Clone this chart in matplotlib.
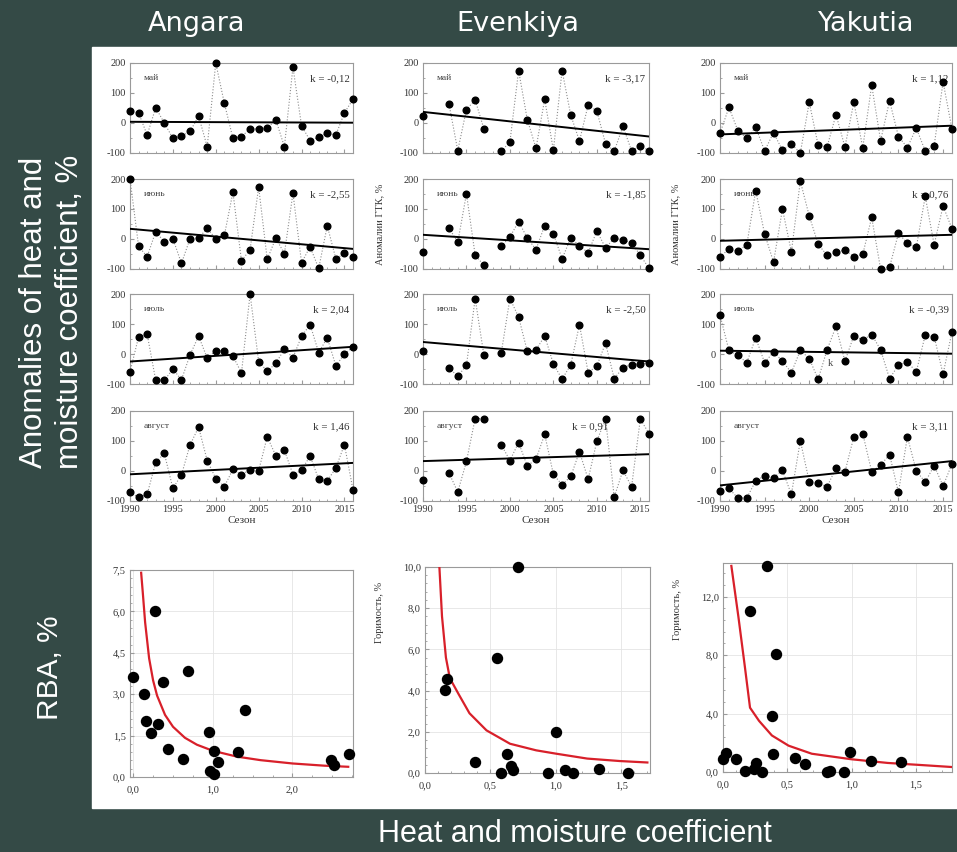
import matplotlib
matplotlib.use("Agg")
import matplotlib.pyplot as plt
from matplotlib.patches import Rectangle
from matplotlib.ticker import FixedLocator, MultipleLocator

W, H = 957, 852
BG = "#344a46"
SERIF = ["Liberation Serif", "DejaVu Serif"]

nan = float("nan")
years = list(range(1990, 2017))
regions = ["Angara", "Evenkiya", "Yakutia"]
months = ["май", "июнь", "июль", "август"]

# ---- аномалии ГТК, % (по годам 1990-2016) ----
angara_may = [40, 34, -40, 51, 0, -51, -43, -28, 23, -79, 200, 66, -51, -45, -20, -20, -18, 11, -79, 186, -9, -59, -47, -34, -40, 34, 79]
angara_jun = [200, -24, -59, 25, -10, 1, -81, 1, 3, 36, 0, 12, 156, -73, -35, 173, -68, 3, -49, 153, -79, -26, -98, 44, -66, -48, -59]
angara_jul = [-60, 57, 66, -88, -88, -50, -86, -3, 60, -14, 11, 11, -7, -63, 200, -25, -58, -31, 16, -12, 59, 98, 5, 54, -39, -1, 24]
angara_aug = [-71, -88, -78, 29, 59, -58, -13, 87, 146, 35, -25, -52, 6, -13, 5, 1, 114, 51, 70, -12, 2, 51, -28, -33, 10, 88, -63]

evenk_may = [23, nan, nan, 62, -92, 45, 77, -19, nan, -94, -63, 175, 11, -84, 79, -91, 175, 26, -60, 60, 40, -69, -94, -11, -93, -76, -92]
evenk_jun = [-43, nan, nan, 36, -11, 151, -54, -87, nan, -24, 7, 58, 3, -35, 45, 18, -66, 3, -22, -46, 27, -30, 3, -3, -13, -54, -98]
evenk_jul = [9, nan, nan, -47, -74, -38, 185, -3, nan, 3, 185, 123, 9, 14, 60, -33, -84, -36, 98, -62, -40, 36, -82, -46, -35, -33, -30]
evenk_aug = [-29, nan, nan, -7, -70, 32, 175, 175, nan, 88, 35, 95, 16, 40, 122, -11, -46, -18, 64, -27, 99, 175, -87, 2, -52, 173, 125]

yakut_may = [-34, 52, -25, -51, -14, -93, -32, -91, -70, -100, 69, -74, -80, 28, -80, 69, -82, 126, -59, 74, -45, -82, -17, -93, -76, 137, -20]
yakut_jun = [-59, -34, -40, -20, 161, 17, -77, 100, -43, 193, 77, -17, -55, -45, -36, -59, -51, 72, -100, -94, 19, -14, -28, 142, -19, 110, 34]
yakut_jul = [130, 12, -4, -29, 54, -29, 7, -24, -62, 12, -15, -84, 14, 92, -24, 61, 47, 65, 14, -82, -37, -27, -59, 63, 58, -67, 74]
yakut_aug = [-67, -58, -90, -90, -33, -16, -22, 2, -78, 101, -35, -41, -52, 9, -3, 114, 124, -2, 19, 55, -71, 114, 0, -37, 18, -50, 24]

series = [
    [angara_may, angara_jun, angara_jul, angara_aug],
    [evenk_may, evenk_jun, evenk_jul, evenk_aug],
    [yakut_may, yakut_jun, yakut_jul, yakut_aug],
]

# линии тренда: значение в 1990 и в 2016
trends = [
    [(4, 1), (34, -33), (-25, 24), (-11, 27)],
    [(37, -45), (14, -34), (40, -25), (33, 56)],
    [(-38, -9), (-6, 14), (11, 1), (-48, 33)],
]
k_labels = [
    ["k = -0,12", "k = -2,55", "k = 2,04", "k = 1,46"],
    ["k = -3,17", "k = -1,85", "k = -2,50", "k = 0,91"],
    ["k = 1,12", "k = 0,76", "k = -0,39", "k = 3,11"],
]

# ---- горимость vs ГТК ----
angara_x = [0.0, 0.14, 0.27, 0.16, 0.22, 0.31, 0.38, 0.44, 0.63, 0.69, 0.95, 0.97, 1.02, 1.01, 1.07, 1.32, 1.41, 2.49, 2.52, 2.71]
angara_y = [3.63, 3.02, 6.02, 2.03, 1.61, 1.93, 3.43, 1.0, 0.64, 3.83, 1.62, 0.22, 0.12, 0.93, 0.53, 0.92, 2.42, 0.63, 0.42, 0.82]
angara_cx = [0.10, 0.12, 0.15, 0.20, 0.25, 0.30, 0.40, 0.50, 0.65, 0.80, 1.0, 1.3, 1.6, 2.0, 2.4, 2.7]
angara_cy = [7.4, 6.7, 5.6, 4.3, 3.5, 2.95, 2.25, 1.82, 1.42, 1.17, 0.95, 0.74, 0.61, 0.49, 0.41, 0.37]

evenk_x = [0.15, 0.17, 0.38, 0.55, 0.58, 0.63, 0.66, 0.67, 0.71, 0.94, 1.0, 1.07, 1.13, 1.33, 1.55]
evenk_y = [4.01, 4.55, 0.53, 5.58, 0.0, 0.91, 0.32, 0.13, 10.0, 0.0, 1.99, 0.13, 0.02, 0.21, 0.0]
evenk_cx = [0.11, 0.13, 0.16, 0.19, 0.255, 0.34, 0.47, 0.65, 0.85, 1.0, 1.24, 1.49, 1.70]
evenk_cy = [10.0, 7.6, 5.6, 4.6, 3.85, 2.9, 2.07, 1.42, 1.1, 0.94, 0.70, 0.58, 0.51]

yakut_x = [0.0, 0.02, 0.10, 0.17, 0.21, 0.24, 0.26, 0.30, 0.34, 0.38, 0.39, 0.41, 0.56, 0.64, 0.81, 0.83, 0.94, 0.99, 1.15, 1.38]
yakut_y = [0.87, 1.32, 0.91, 0.07, 11.05, 0.18, 0.62, 0.0, 14.08, 3.83, 1.21, 8.09, 0.98, 0.57, 0.0, 0.07, 0.0, 1.37, 0.75, 0.68]
yakut_cx = [0.065, 0.12, 0.17, 0.21, 0.28, 0.38, 0.51, 0.69, 1.0, 1.28, 1.57, 1.78]
yakut_cy = [14.1, 10.6, 7.2, 4.4, 3.5, 2.5, 1.8, 1.25, 0.87, 0.62, 0.46, 0.34]

scatters = [
    (angara_x, angara_y, angara_cx, angara_cy),
    (evenk_x, evenk_y, evenk_cx, evenk_cy),
    (yakut_x, yakut_y, yakut_cx, yakut_cy),
]
sc_xlim = [(-0.04, 2.76), (0.0, 1.72), (0.0, 1.78)]
sc_ylim = [(0, 7.5), (0, 10.0), (0, 14.3)]
sc_xticks = [[0, 1, 2], [0, 0.5, 1.0, 1.5], [0, 0.5, 1.0, 1.5]]
sc_yticks = [[0, 1.5, 3.0, 4.5, 6.0, 7.5], [0, 2, 4, 6, 8, 10], [0, 4, 8, 12]]

# ------------------ layout (пиксели) ------------------
cols = [(130, 353), (423, 649), (720, 952)]
rows = [(63, 153), (179, 269), (294, 384), (411, 501)]
sc_boxes = [(130, 570, 353, 777), (425, 567, 650, 773), (723, 563, 952, 772)]


def rect(x0, y0, x1, y1):
    return [x0 / W, 1 - y1 / H, (x1 - x0) / W, (y1 - y0) / H]


def comma(v):
    return f"{v:.1f}".replace(".", ",")


def style_axes(ax):
    for s in ax.spines.values():
        s.set_color("#9a9a9a")
        s.set_linewidth(0.8)
    ax.tick_params(which="both", direction="in", colors="#9a9a9a",
                   labelcolor="#333333", labelsize=7.5, pad=3)
    ax.tick_params(which="major", length=3)
    ax.tick_params(which="minor", length=1.5)
    for lab in ax.get_xticklabels() + ax.get_yticklabels():
        lab.set_fontfamily(SERIF)


fig = plt.figure(figsize=(W / 100, H / 100), dpi=100)
fig.patch.set_facecolor(BG)
fig.patches.append(Rectangle((92 / W, 1 - 808 / H), (957 - 92) / W, (808 - 47) / H,
                             transform=fig.transFigure, color="white", zorder=-10))

for c, (x0, x1) in enumerate(cols):
    for r, (y0, y1) in enumerate(rows):
        ax = fig.add_axes(rect(x0, y0, x1, y1))
        ax.set_facecolor("white")
        vals = series[c][r]
        ax.plot(years, vals, ls=":", color="#8c8c8c", lw=0.8, zorder=2)
        ax.plot(years, vals, "o", color="black", ms=4.8, clip_on=False, zorder=4)
        t0, t1 = trends[c][r]
        ax.plot([years[0], years[-1]], [t0, t1], color="black", lw=1.4, zorder=3)
        ax.set_xlim(1990, 2016)
        ax.set_ylim(-100, 200)
        ax.yaxis.set_major_locator(FixedLocator([-100, 0, 100, 200]))
        ax.yaxis.set_minor_locator(MultipleLocator(50))
        ax.xaxis.set_major_locator(FixedLocator([1990, 1995, 2000, 2005, 2010, 2015]))
        ax.xaxis.set_minor_locator(MultipleLocator(1))
        ax.set_yticklabels(["-100", "0", "100", "200"])
        if r == 3:
            ax.set_xticklabels(["1990", "1995", "2000", "2005", "2010", "2015"])
            ax.set_xlabel("Сезон", fontsize=8, family=SERIF, color="#333333", labelpad=1)
        else:
            ax.set_xticklabels([])
        style_axes(ax)
        ax.text(0.06, 0.83, months[r], transform=ax.transAxes, fontsize=6.8,
                family=SERIF, color="#444444", va="center", ha="left")
        kx = 0.82 if (c == 1 and r == 3) else 0.985
        ax.text(kx, 0.82, k_labels[c][r], transform=ax.transAxes, fontsize=7.8,
                family=SERIF, color="#333333", va="center", ha="right")
        if r == 1 and c > 0:
            ax.set_ylabel("Аномалии ГТК, %", fontsize=7.5, family=SERIF, color="#333333")
            ax.yaxis.set_label_coords(-0.17, 0.5)
        if c == 2 and r == 2:
            ax.text(2002.4, -30, "k", fontsize=7.5, family=SERIF, color="#444444",
                    ha="center", va="center")

for c, box in enumerate(sc_boxes):
    ax = fig.add_axes(rect(*box))
    ax.set_facecolor("white")
    xs, ys, cx, cy = scatters[c]
    ax.grid(True, color="#e4e4e4", lw=0.6, zorder=0)
    ax.plot(cx, cy, color="#d8202a", lw=1.6, zorder=3)
    ax.plot(xs, ys, "o", color="black", ms=7.2, clip_on=False, zorder=4)
    ax.set_xlim(*sc_xlim[c])
    ax.set_ylim(*sc_ylim[c])
    ax.xaxis.set_major_locator(FixedLocator(sc_xticks[c]))
    ax.yaxis.set_major_locator(FixedLocator(sc_yticks[c]))
    ax.set_xticklabels([comma(v) for v in sc_xticks[c]])
    ax.set_yticklabels([comma(v) for v in sc_yticks[c]])
    ax.xaxis.set_minor_locator(MultipleLocator(0.25 if c == 0 else 0.1))
    ax.yaxis.set_minor_locator(MultipleLocator(sc_yticks[c][1] / 5))
    ax.set_axisbelow(True)
    style_axes(ax)
    ax.tick_params(axis="x", pad=6)
    if c > 0:
        ax.set_ylabel("Горимость, %", fontsize=7.5, family=SERIF, color="#333333")
        ax.yaxis.set_label_coords(-0.18, 0.78)

# заголовки и подписи
title_x = [197, 518, 866]
for name, tx in zip(regions, title_x):
    fig.text(tx / W, 1 - 24 / H, name, color="white", fontsize=19.5,
             family="DejaVu Sans", ha="center", va="center")

fig.text(52 / W, 1 - 312 / H, "Anomalies of heat and\nmoisture coefficient, %",
         color="white", fontsize=22.5, family="Liberation Sans", rotation=90,
         ha="center", va="center", linespacing=1.25)
fig.text(50 / W, 1 - 668 / H, "RBA, %", color="white", fontsize=21.5,
         family="Liberation Sans", rotation=90, ha="center", va="center")
fig.text(575 / W, 1 - 834 / H, "Heat and moisture coefficient", color="white",
         fontsize=22, family="Liberation Sans", ha="center", va="center")

fig.savefig("out.png", dpi=100, facecolor=BG)
